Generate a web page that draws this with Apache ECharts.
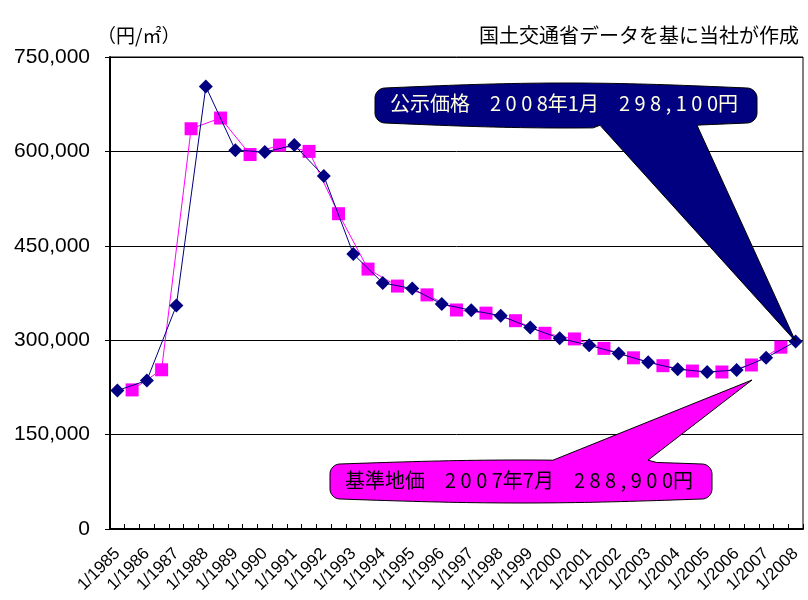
<!DOCTYPE html>
<html>
<head>
<meta charset="utf-8">
<script src="https://cdn.jsdelivr.net/npm/echarts@6/dist/echarts.min.js"></script>
<style>
  html, body { margin: 0; padding: 0; background: #fff; }
  #main { width: 808px; height: 600px; }
</style>
</head>
<body>
<div id="main"></div>
<script>
// 1985-2008, January (公示価格) and July (基準地価) values, yen per m2
var years = [1985, 1986, 1987, 1988, 1989, 1990, 1991, 1992, 1993, 1994, 1995, 1996,
  1997, 1998, 1999, 2000, 2001, 2002, 2003, 2004, 2005, 2006, 2007, 2008];
var kojiValues = [220000, 236000, 355000, 703000, 602000, 599000, 610000, 561000,
  437000, 391000, 382000, 357500, 347500, 339000, 320000, 303000, 292000, 279000,
  265000, 254000, 249500, 252600, 272000, 298100];
var kijunValues = [221000, 253000, 636000, 653000, 595000, 610000, 600000, 501000,
  413000, 386000, 372000, 348000, 343000, 331000, 311000, 302000, 287000, 272000,
  259500, 251000, 249500, 260600, 288900];
var yTicks = [0, 150000, 300000, 450000, 600000, 750000];

// half-year categories: 1/1985, 7/1985, ... 1/2008
var categories = [];
years.forEach(function (y, i) {
  categories.push('1/' + y);
  if (i < years.length - 1) categories.push('7/' + y);
});

var kojiData = kojiValues.map(function (v, i) { return [i * 2, v]; });
var kijunData = kijunValues.map(function (v, i) { return [i * 2 + 1, v]; });

function fmt(v) {
  return String(v).replace(/\B(?=(\d{3})+(?!\d))/g, ',');
}

// rounded callout outline with a pointer, as one polygon
function bubble(x0, y0, x1, y1, r, bulge, side, bx0, bx1, tip) {
  var pts = [];
  var i, t, a, n = 40;
  // top edge
  for (i = 0; i <= n; i++) {
    t = i / n;
    var x = x0 + r + (x1 - x0 - 2 * r) * t;
    var y = y0 - bulge * Math.sin(Math.PI * t);
    if (side === 'top' && x > bx0 && pts.length && pts[pts.length - 1][0] <= bx0) {
      pts.push([bx0, y]); pts.push(tip); pts.push([bx1, y]);
    }
    if (side === 'top' && x > bx0 && x < bx1) continue;
    pts.push([x, y]);
  }
  for (i = 0; i <= 8; i++) {
    a = -Math.PI / 2 + (Math.PI / 2) * i / 8;
    pts.push([x1 - r + r * Math.cos(a), y0 + r + r * Math.sin(a)]);
  }
  for (i = 0; i <= 8; i++) {
    a = (Math.PI / 2) * i / 8;
    pts.push([x1 - r + r * Math.cos(a), y1 - r + r * Math.sin(a)]);
  }
  // bottom edge, right to left
  for (i = 0; i <= n; i++) {
    t = i / n;
    var xb = x1 - r - (x1 - x0 - 2 * r) * t;
    var yb = y1 + bulge * Math.sin(Math.PI * t);
    if (side === 'bottom' && xb < bx1 && pts.length && pts[pts.length - 1][0] >= bx1) {
      pts.push([bx1, yb]); pts.push(tip); pts.push([bx0, yb]);
    }
    if (side === 'bottom' && xb < bx1 && xb > bx0) continue;
    pts.push([xb, yb]);
  }
  for (i = 0; i <= 8; i++) {
    a = Math.PI / 2 + (Math.PI / 2) * i / 8;
    pts.push([x0 + r + r * Math.cos(a), y1 - r + r * Math.sin(a)]);
  }
  for (i = 0; i <= 8; i++) {
    a = Math.PI + (Math.PI / 2) * i / 8;
    pts.push([x0 + r + r * Math.cos(a), y0 + r + r * Math.sin(a)]);
  }
  return pts;
}

var chartDom = document.getElementById('main');
var myChart = echarts.init(chartDom);
var option;

option = {
  backgroundColor: '#fff',
  animation: false,
  title: [
    {
      text: '（円/㎡）',
      left: 92,
      top: 21,
      textStyle: { fontSize: 19, fontWeight: 'normal', color: '#000', fontFamily: 'Noto Sans CJK JP' }
    },
    {
      text: '国土交通省データを基に当社が作成',
      right: 4,
      top: 20,
      textStyle: { fontSize: 20, fontWeight: 'normal', color: '#000', fontFamily: 'Noto Sans CJK JP' }
    }
  ],
  grid: {
    left: 110,
    right: 5,
    top: 57,
    bottom: 71,
    show: true,
    borderColor: '#000',
    borderWidth: 1
  },
  xAxis: {
    type: 'category',
    data: categories,
    boundaryGap: true,
    axisLine: { lineStyle: { color: '#000', width: 2 } },
    axisTick: { show: true, interval: 0, inside: true, length: 5, lineStyle: { color: '#000' } },
    axisLabel: {
      interval: 1,
      rotate: 45,
      margin: 22,
      fontSize: 17,
      color: '#000',
      fontFamily: 'Liberation Sans'
    },
    splitLine: { show: false }
  },
  yAxis: {
    type: 'value',
    min: yTicks[0],
    max: yTicks[yTicks.length - 1],
    interval: yTicks[1] - yTicks[0],
    axisLine: { show: true, lineStyle: { color: '#000', width: 2 } },
    axisTick: { show: true, length: 5, lineStyle: { color: '#000' } },
    axisLabel: {
      fontSize: 21,
      color: '#000',
      margin: 20,
      fontFamily: 'Liberation Sans',
      formatter: fmt
    },
    splitLine: { show: true, lineStyle: { color: '#000', width: 1 } }
  },
  series: [
    {
      name: '公示価格',
      type: 'line',
      data: kojiData,
      connectNulls: true,
      showAllSymbol: true,
      symbol: 'diamond',
      symbolSize: 14,
      z: 3,
      lineStyle: { color: '#000080', width: 1 },
      itemStyle: { color: '#000080' }
    },
    {
      name: '基準地価',
      type: 'line',
      data: kijunData,
      connectNulls: true,
      showAllSymbol: true,
      symbol: 'rect',
      symbolSize: 13,
      z: 2,
      lineStyle: { color: '#FF00FF', width: 1 },
      itemStyle: { color: '#FF00FF' }
    }
  ]
};

option && myChart.setOption(option);

// callouts, pointing at the latest points
var kojiTip = myChart.convertToPixel({ xAxisIndex: 0, yAxisIndex: 0 },
  [kojiData.length * 2 - 2, kojiValues[kojiValues.length - 1]]);
var kijunTip = [752, 380];

myChart.setOption({
  graphic: [
    {
      type: 'polygon',
      z: 100,
      shape: { points: bubble(375, 88, 757, 123, 10, 5, 'bottom', 600, 697, kojiTip) },
      style: { fill: '#000080', stroke: '#000', lineWidth: 1 }
    },
    {
      type: 'text',
      z: 101,
      left: 390,
      top: 93,
      style: {
        text: '公示価格　2 0 0 8年1月　2 9 8 , 1 0 0円',
        fill: '#FFFFE0',
        fontSize: 20,
        fontFamily: 'Noto Sans CJK JP'
      }
    },
    {
      type: 'polygon',
      z: 100,
      shape: { points: bubble(330, 464, 712, 499, 10, 4, 'top', 553, 648, kijunTip) },
      style: { fill: '#FF00FF', stroke: '#000', lineWidth: 1 }
    },
    {
      type: 'text',
      z: 101,
      left: 345,
      top: 470,
      style: {
        text: '基準地価　2 0 0 7年7月　2 8 8 , 9 0 0円',
        fill: '#000',
        fontSize: 20,
        fontFamily: 'Noto Sans CJK JP'
      }
    }
  ]
});
</script>
</body>
</html>
